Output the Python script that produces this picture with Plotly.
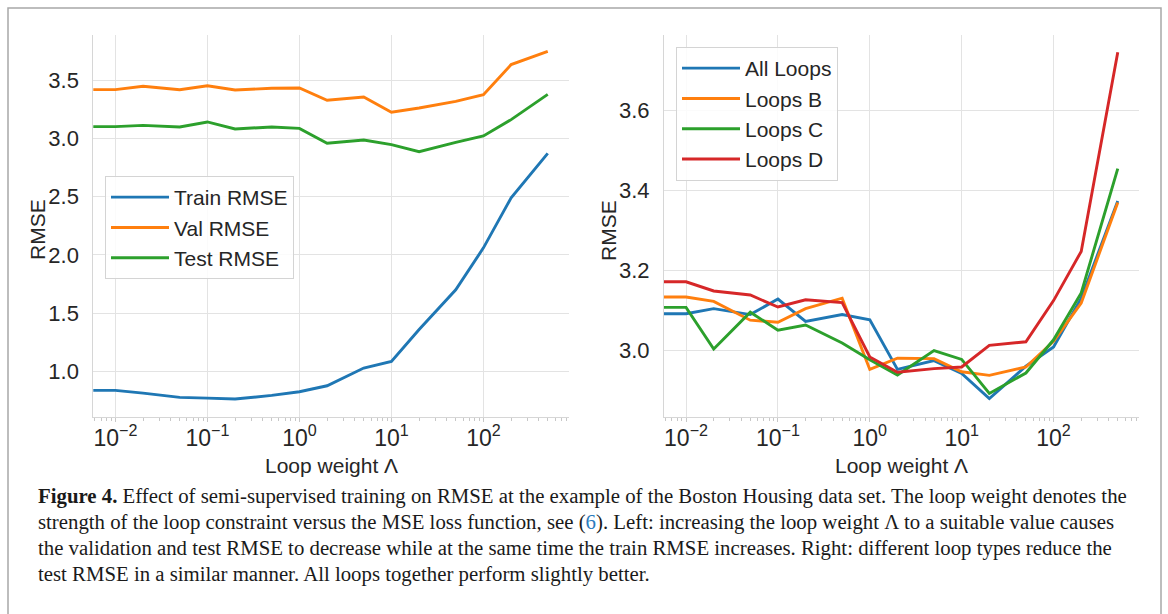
import plotly.graph_objects as go

# ---------------- data ----------------
loop_weights = [0.005, 0.01, 0.02, 0.05, 0.1, 0.2, 0.5, 1, 2, 5, 10, 20, 50, 100, 200, 500]

train_rmse = [0.837, 0.837, 0.814, 0.777, 0.771, 0.763, 0.794, 0.826, 0.877, 1.029, 1.086, 1.36, 1.70, 2.06, 2.49, 2.87]
val_rmse = [3.417, 3.417, 3.446, 3.417, 3.451, 3.414, 3.429, 3.431, 3.326, 3.354, 3.223, 3.26, 3.317, 3.374, 3.632, 3.746]
test_rmse = [3.100, 3.100, 3.111, 3.097, 3.140, 3.080, 3.097, 3.085, 2.957, 2.985, 2.945, 2.885, 2.965, 3.020, 3.160, 3.377]

all_loops = [3.092, 3.092, 3.105, 3.090, 3.129, 3.073, 3.090, 3.077, 2.953, 2.975, 2.943, 2.880, 2.961, 3.009, 3.131, 3.374]
loops_b = [3.134, 3.134, 3.123, 3.076, 3.071, 3.105, 3.131, 2.953, 2.981, 2.980, 2.947, 2.938, 2.959, 3.023, 3.119, 3.370]
loops_c = [3.108, 3.108, 3.004, 3.096, 3.051, 3.064, 3.019, 2.977, 2.939, 3.000, 2.978, 2.893, 2.944, 3.027, 3.144, 3.455]
loops_d = [3.172, 3.172, 3.149, 3.139, 3.109, 3.127, 3.120, 2.984, 2.946, 2.955, 2.959, 3.013, 3.022, 3.125, 3.248, 3.746]

left_names = ["Train RMSE", "Val RMSE", "Test RMSE"]
right_names = ["All Loops", "Loops B", "Loops C", "Loops D"]
left_yticks = [1.0, 1.5, 2.0, 2.5, 3.0, 3.5]
right_yticks = [3.0, 3.2, 3.4, 3.6]
x_tickvals = [0.01, 0.1, 1, 10, 100]
x_ticktext = ["10<sup>−2</sup>", "10<sup>−1</sup>", "10<sup>0</sup>", "10<sup>1</sup>", "10<sup>2</sup>"]
x_label = "Loop weight Λ"
y_label = "RMSE"

caption_lines = [
    "<b>Figure 4.</b> Effect of semi-supervised training on RMSE at the example of the Boston Housing data set. The loop weight denotes the",
    "strength of the loop constraint versus the MSE loss function, see (<span style=\"color:#2b7bbd\">6</span>). Left: increasing the loop weight Λ to a suitable value causes",
    "the validation and test RMSE to decrease while at the same time the train RMSE increases. Right: different loop types reduce the",
    "test RMSE in a similar manner. All loops together perform slightly better.",
]

colors = ["#1f77b4", "#ff7f0e", "#2ca02c", "#d62728"]

W, H = 1168, 614
def px(x):
    return x / W
def py(y):
    return 1 - y / H

fig = go.Figure()

for name, vals, c in zip(left_names, [train_rmse, val_rmse, test_rmse], colors):
    fig.add_trace(go.Scatter(x=loop_weights, y=vals, mode="lines", name=name,
                             line=dict(color=c, width=2.9), xaxis="x", yaxis="y",
                             legend="legend"))

for name, vals, c in zip(right_names, [all_loops, loops_b, loops_c, loops_d], colors):
    fig.add_trace(go.Scatter(x=loop_weights, y=vals, mode="lines", name=name,
                             line=dict(color=c, width=2.9), xaxis="x2", yaxis="y2",
                             legend="legend2"))

FONT = "Liberation Sans, Arial, sans-serif"
TXT = "#262626"
grid = "#e3e3e3"
spine = "#d6d6d6"

xcommon = dict(type="log", range=[-2.24, 2.93], showgrid=True, gridcolor=grid, gridwidth=1,
               showline=True, linecolor=spine, linewidth=1, zeroline=False,
               tickvals=x_tickvals, ticktext=x_ticktext,
               ticks="outside", ticklen=4, tickcolor="#c8c8c8",
               minor=dict(ticks="outside", ticklen=3, tickcolor="#c8c8c8", dtick="D1", showgrid=False),
               tickfont=dict(family=FONT, size=23, color=TXT),
               ticklabelstandoff=-4)
ycommon = dict(showgrid=True, gridcolor=grid, gridwidth=1, showline=True, linecolor=spine,
               linewidth=1, zeroline=False, ticks="", tickformat=".1f",
               tickfont=dict(family=FONT, size=22, color=TXT),
               ticklabelstandoff=9)

legend_common = dict(xanchor="left", yanchor="top", itemwidth=58,
                     bgcolor="rgba(255,255,255,0.85)", bordercolor="#d4d4d4", borderwidth=1,
                     font=dict(family=FONT, size=21, color=TXT))

y_dom = [py(417), py(35)]
fig.update_layout(
    width=W, height=H,
    margin=dict(l=0, r=0, t=0, b=0),
    paper_bgcolor="white", plot_bgcolor="white",
    font=dict(family=FONT, color=TXT),
    xaxis=dict(domain=[px(93.3), px(569)], anchor="y", **xcommon),
    yaxis=dict(domain=y_dom, anchor="x", range=[0.609, 3.886], tickvals=left_yticks, **ycommon),
    xaxis2=dict(domain=[px(664), px(1139)], anchor="y2", **xcommon),
    yaxis2=dict(domain=y_dom, anchor="x2", range=[2.834, 3.789], tickvals=right_yticks, **ycommon),
    legend=dict(x=px(105), y=py(176), **legend_common),
    legend2=dict(x=px(676), y=py(47), **legend_common),
)

# axis titles
for xc in [(93.3 + 569) / 2, (664 + 1139) / 2]:
    fig.add_annotation(x=px(xc), y=py(465), xref="paper", yref="paper", text=x_label,
                       showarrow=False, xanchor="center", yanchor="middle",
                       font=dict(family=FONT, size=21, color=TXT))
for xc in [38, 609]:
    fig.add_annotation(x=px(xc), y=py(230), xref="paper", yref="paper", text=y_label,
                       showarrow=False, textangle=-90, xanchor="center", yanchor="middle",
                       font=dict(family=FONT, size=21, color=TXT))

# caption, one annotation per line
for i, line in enumerate(caption_lines):
    fig.add_annotation(x=px(36), y=py(496 + 26 * i), xref="paper", yref="paper",
                       text=line, showarrow=False, align="left",
                       xanchor="left", yanchor="middle",
                       font=dict(family="Liberation Serif, Times New Roman, serif", size=20.8, color="#1a1a1a"))

# figure frame
fig.add_shape(type="rect", xref="paper", yref="paper", x0=px(8), x1=px(1161), y0=-0.2, y1=py(8),
              line=dict(color="#a8a8a8", width=1.5), fillcolor="rgba(0,0,0,0)", layer="below")

fig.write_html("out.html")
